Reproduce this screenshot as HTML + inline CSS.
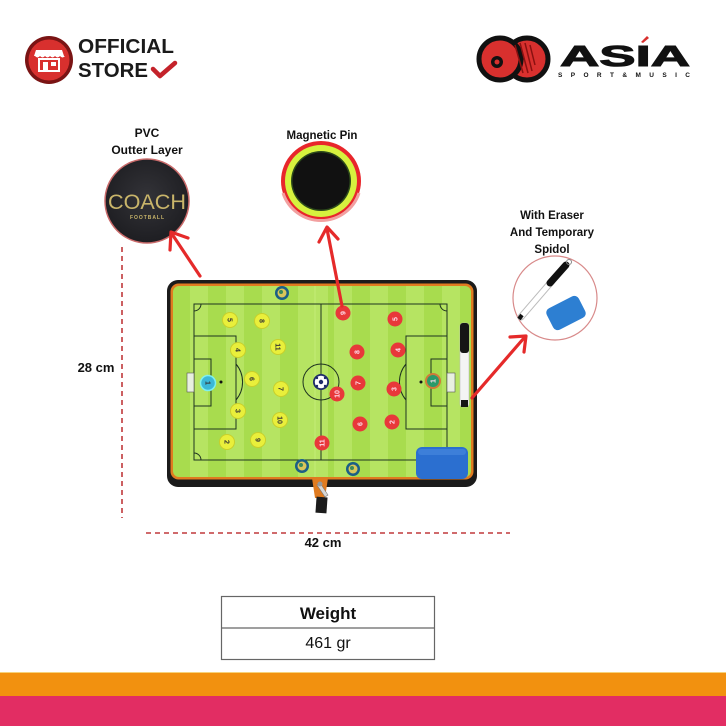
<!DOCTYPE html>
<html><head><meta charset="utf-8"><style>
html,body{margin:0;padding:0;background:#fff;}
svg{display:block;}
text{font-family:"Liberation Sans",sans-serif;}
</style></head><body>
<svg width="726" height="726" viewBox="0 0 726 726" xmlns="http://www.w3.org/2000/svg">
<defs>
<pattern id="stripes" x="172" y="0" width="36" height="10" patternUnits="userSpaceOnUse">
<rect x="0" y="0" width="18" height="10" fill="#a8dc4e"/>
<rect x="18" y="0" width="18" height="10" fill="#b6e462"/>
</pattern>
<radialGradient id="coachg" cx="0.5" cy="0.45" r="0.6">
<stop offset="0" stop-color="#333338"/><stop offset="1" stop-color="#1c1c20"/>
</radialGradient>
</defs>
<rect width="726" height="726" fill="#fff"/>

<!-- Official store logo -->
<circle cx="49" cy="60" r="24" fill="#7a1414"/>
<circle cx="49" cy="60" r="20.5" fill="#d8302e"/>
<path d="M36 50 h26 l2 6 h-30 z" fill="#fff"/>
<path d="M35 56 q2.5 3 5 0 q2.5 3 5 0 q2.5 3 5 0 q2.5 3 5 0 q2.5 3 5 0 q2.5 3 5 0" fill="#fff"/>
<rect x="39" y="59" width="20" height="12" fill="none" stroke="#fff" stroke-width="2"/>
<rect x="43" y="62" width="5" height="9" fill="#fff"/>
<rect x="51" y="62" width="5" height="4" fill="#fff"/>
<text x="78" y="53" font-size="20" font-weight="bold" fill="#1a1a1a" textLength="96" lengthAdjust="spacingAndGlyphs">OFFICIAL</text>
<text x="78" y="77" font-size="20" font-weight="bold" fill="#1a1a1a" textLength="70" lengthAdjust="spacingAndGlyphs">STORE</text>
<polyline points="153,69 160,76 175,63" fill="none" stroke="#c4222a" stroke-width="4.5" stroke-linecap="round" stroke-linejoin="round"/>

<!-- ASIA logo -->
<circle cx="527" cy="59" r="21" fill="#d8302e" stroke="#111" stroke-width="5"/>
<circle cx="500" cy="59" r="21" fill="#d8302e" stroke="#111" stroke-width="5"/>
<path d="M515 45 l8 28 M520 43 l8 30 M525 43 l7 28 M530 45 l5 20" stroke="#8a1010" stroke-width="1.5"/>
<circle cx="497" cy="62" r="6" fill="#111"/>
<circle cx="497" cy="62" r="2.5" fill="#d8302e"/>
<text x="560" y="66" font-size="29" font-weight="bold" fill="#111" stroke="#111" stroke-width="1" textLength="130" lengthAdjust="spacingAndGlyphs">ASIA</text>
<path d="M641 42 l6 -6 l2 2 l-6 5 z" fill="#d8302e"/>
<text x="558" y="77" font-size="6.5" font-weight="bold" fill="#111" textLength="132" lengthAdjust="spacing">SPORT&amp;MUSIC</text>

<!-- labels -->
<text x="147" y="137" font-size="12" font-weight="bold" fill="#111" text-anchor="middle">PVC</text>
<text x="147" y="154" font-size="12" font-weight="bold" fill="#111" text-anchor="middle">Outter Layer</text>
<text x="322" y="139" font-size="11.5" font-weight="bold" fill="#111" text-anchor="middle">Magnetic Pin</text>
<text x="552" y="219" font-size="11.5" font-weight="bold" fill="#111" text-anchor="middle">With Eraser</text>
<text x="552" y="236" font-size="11.5" font-weight="bold" fill="#111" text-anchor="middle">And Temporary</text>
<text x="552" y="253" font-size="11.5" font-weight="bold" fill="#111" text-anchor="middle">Spidol</text>

<!-- COACH circle -->
<circle cx="147" cy="201" r="42" fill="url(#coachg)" stroke="#c96a6a" stroke-width="1.5"/>
<text x="147" y="209" font-size="21" fill="#c9b56a" text-anchor="middle" textLength="78" lengthAdjust="spacingAndGlyphs">COACH</text>
<text x="147" y="219" font-size="5" font-weight="bold" fill="#c9b56a" text-anchor="middle" textLength="34" lengthAdjust="spacing">FOOTBALL</text>

<!-- Magnetic pin circle -->
<circle cx="321" cy="181" r="40" fill="#e8262b"/>
<path d="M283 193 a40 40 0 0 0 76 0" fill="none" stroke="#f2a0a0" stroke-width="3"/>
<circle cx="321" cy="181" r="36" fill="#d6f23e"/>
<circle cx="321" cy="181" r="30" fill="#2c4a1a"/>
<circle cx="321" cy="181" r="28.5" fill="#111"/>

<!-- Eraser circle -->
<circle cx="555" cy="298" r="42" fill="#fff" stroke="#d88a8a" stroke-width="1.2"/>
<line x1="521" y1="317" x2="552" y2="281" stroke="#bbb" stroke-width="7" stroke-linecap="round"/>
<line x1="521" y1="317" x2="552" y2="281" stroke="#fff" stroke-width="5"/>
<line x1="550" y1="283" x2="566" y2="265" stroke="#111" stroke-width="7" stroke-linecap="round"/>
<circle cx="569" cy="262" r="2.5" fill="none" stroke="#888" stroke-width="1"/>
<line x1="519" y1="319" x2="522" y2="315" stroke="#111" stroke-width="4"/>
<rect x="548" y="301" width="36" height="24" rx="5" fill="#2d7fd2" transform="rotate(-27 566 313)"/>

<!-- dimension lines -->
<line x1="122" y1="247" x2="122" y2="518" stroke="#c0393b" stroke-width="1.6" stroke-dasharray="5,4"/>
<line x1="146" y1="533" x2="510" y2="533" stroke="#c0393b" stroke-width="1.6" stroke-dasharray="5,4"/>
<text x="96" y="372" font-size="13" font-weight="bold" fill="#111" text-anchor="middle">28 cm</text>
<text x="323" y="547" font-size="13" font-weight="bold" fill="#111" text-anchor="middle">42 cm</text>

<!-- Board -->
<rect x="167" y="280" width="310" height="207" rx="11" fill="#1b1b1b"/>
<rect x="170.5" y="283.5" width="303" height="196" rx="8" fill="#e07b20"/>
<rect x="173" y="286" width="298" height="191" rx="6" fill="url(#stripes)"/>
<rect x="314" y="286" width="14" height="191" fill="#c3ec78" opacity="0.5"/>
<g fill="none" stroke="#1e3320" stroke-width="1">
<rect x="194" y="304" width="253" height="156"/>
<line x1="321" y1="304" x2="321" y2="460"/>
<circle cx="321" cy="382" r="18"/>
<rect x="194" y="336" width="42" height="93"/>
<rect x="194" y="359" width="17" height="47"/>
<rect x="406" y="336" width="41" height="93"/>
<rect x="431" y="359" width="16" height="47"/>
<path d="M236 364 a28 28 0 0 1 0 36"/>
<path d="M406 364 a28 28 0 0 0 0 36"/>
<path d="M194 311 a7 7 0 0 0 7 -7"/>
<path d="M440 304 a7 7 0 0 0 7 7"/>
<path d="M194 453 a7 7 0 0 1 7 7"/>
<path d="M440 460 a7 7 0 0 1 7 -7"/>
</g>
<rect x="187" y="373" width="7" height="19" fill="#e8f0e0" stroke="#555" stroke-width="0.6"/>
<rect x="447" y="373" width="8" height="19" fill="#e8f0e0" stroke="#555" stroke-width="0.6"/>
<circle cx="221" cy="382" r="1.5" fill="#111"/>
<circle cx="421" cy="382" r="1.5" fill="#111"/>

<!-- yellow discs -->
<g font-size="7" font-weight="bold" fill="#333" text-anchor="middle">
<g><circle cx="230" cy="320" r="7.5" fill="#e9ef3b" stroke="#c9cf2a"/><text x="230" y="322.5" transform="rotate(90 230 320)">5</text></g>
<g><circle cx="262" cy="321" r="7.5" fill="#e9ef3b" stroke="#c9cf2a"/><text x="262" y="323.5" transform="rotate(90 262 321)">8</text></g>
<g><circle cx="238" cy="350" r="7.5" fill="#e9ef3b" stroke="#c9cf2a"/><text x="238" y="352.5" transform="rotate(90 238 350)">4</text></g>
<g><circle cx="278" cy="347" r="7.5" fill="#e9ef3b" stroke="#c9cf2a"/><text x="278" y="349.5" transform="rotate(90 278 347)">11</text></g>
<g><circle cx="252" cy="379" r="7.5" fill="#e9ef3b" stroke="#c9cf2a"/><text x="252" y="381.5" transform="rotate(90 252 379)">6</text></g>
<g><circle cx="281" cy="389" r="7.5" fill="#e9ef3b" stroke="#c9cf2a"/><text x="281" y="391.5" transform="rotate(90 281 389)">7</text></g>
<g><circle cx="238" cy="411" r="7.5" fill="#e9ef3b" stroke="#c9cf2a"/><text x="238" y="413.5" transform="rotate(90 238 411)">3</text></g>
<g><circle cx="280" cy="420" r="7.5" fill="#e9ef3b" stroke="#c9cf2a"/><text x="280" y="422.5" transform="rotate(90 280 420)">10</text></g>
<g><circle cx="227" cy="442" r="7.5" fill="#e9ef3b" stroke="#c9cf2a"/><text x="227" y="444.5" transform="rotate(90 227 442)">2</text></g>
<g><circle cx="258" cy="440" r="7.5" fill="#e9ef3b" stroke="#c9cf2a"/><text x="258" y="442.5" transform="rotate(90 258 440)">9</text></g>
<g><circle cx="208" cy="383" r="7.5" fill="#3bb8d8" stroke="#7ef0f0" stroke-width="1.5"/><text x="208" y="385.5" transform="rotate(90 208 383)">1</text></g>
</g>
<!-- red discs -->
<g font-size="7" font-weight="bold" fill="#fde" text-anchor="middle">
<g><circle cx="343" cy="313" r="7.5" fill="#e8383a"/><text x="343" y="315.5" transform="rotate(-90 343 313)">9</text></g>
<g><circle cx="395" cy="319" r="7.5" fill="#e8383a"/><text x="395" y="321.5" transform="rotate(-90 395 319)">5</text></g>
<g><circle cx="357" cy="352" r="7.5" fill="#e8383a"/><text x="357" y="354.5" transform="rotate(-90 357 352)">8</text></g>
<g><circle cx="398" cy="350" r="7.5" fill="#e8383a"/><text x="398" y="352.5" transform="rotate(-90 398 350)">4</text></g>
<g><circle cx="358" cy="383" r="7.5" fill="#e8383a"/><text x="358" y="385.5" transform="rotate(-90 358 383)">7</text></g>
<g><circle cx="337" cy="394" r="7.5" fill="#e8383a"/><text x="337" y="396.5" transform="rotate(-90 337 394)">10</text></g>
<g><circle cx="394" cy="389" r="7.5" fill="#e8383a"/><text x="394" y="391.5" transform="rotate(-90 394 389)">3</text></g>
<g><circle cx="360" cy="424" r="7.5" fill="#e8383a"/><text x="360" y="426.5" transform="rotate(-90 360 424)">6</text></g>
<g><circle cx="392" cy="422" r="7.5" fill="#e8383a"/><text x="392" y="424.5" transform="rotate(-90 392 422)">2</text></g>
<g><circle cx="322" cy="443" r="7.5" fill="#e8383a"/><text x="322" y="445.5" transform="rotate(-90 322 443)">11</text></g>
<g><circle cx="433" cy="381" r="8" fill="#d07a3a"/><circle cx="433" cy="381" r="6" fill="#2a9a6a"/><text x="433" y="383.5" transform="rotate(-90 433 381)">1</text></g>
</g>
<!-- ball -->
<circle cx="321" cy="382" r="8" fill="#1d2a6a"/>
<circle cx="321" cy="382" r="6.2" fill="#fff"/>
<circle cx="321" cy="382" r="2.2" fill="#1d2a6a"/>
<circle cx="317" cy="378" r="1.2" fill="#1d2a6a"/><circle cx="325" cy="378" r="1.2" fill="#1d2a6a"/>
<circle cx="317" cy="386" r="1.2" fill="#1d2a6a"/><circle cx="325" cy="386" r="1.2" fill="#1d2a6a"/>
<!-- blue magnets -->
<g>
<circle cx="282" cy="293" r="7" fill="#1b5f86"/><circle cx="282" cy="293" r="4.5" fill="#d9c65a"/><circle cx="281" cy="292" r="2" fill="#3a8a5a"/>
<circle cx="302" cy="466" r="7" fill="#1b5f86"/><circle cx="302" cy="466" r="4.5" fill="#d9c65a"/><circle cx="301" cy="465" r="2" fill="#3a8a5a"/>
<circle cx="353" cy="469" r="7" fill="#1b5f86"/><circle cx="353" cy="469" r="4.5" fill="#d9c65a"/><circle cx="352" cy="468" r="2" fill="#3a8a5a"/>
</g>
<!-- pen on board -->
<rect x="460" y="323" width="9" height="84" rx="3" fill="#f4f4f4" stroke="#bbb" stroke-width="0.6"/>
<rect x="460" y="323" width="9" height="30" rx="3" fill="#151515"/>
<rect x="461" y="400" width="7" height="7" fill="#151515"/>
<!-- eraser on board -->
<rect x="416" y="447" width="52" height="32" rx="6" fill="#2b6fd0"/>
<rect x="418" y="449" width="48" height="6" rx="3" fill="#4a8ae0" opacity="0.6"/>
<!-- zipper -->
<path d="M312 478 h16 l-3 20 h-10 z" fill="#e07b20"/>
<rect x="316" y="497" width="11" height="16" fill="#1b1b1b" transform="rotate(4 321 505)"/>
<path d="M320 483 l8 12 l-3 2 l-8 -12 z" fill="#d6d6d6" stroke="#777" stroke-width="0.6"/>
<circle cx="320" cy="484" r="2.5" fill="#999"/>

<!-- arrows -->
<g stroke="#e52a2a" stroke-width="3.2" stroke-linecap="round" fill="none" stroke-linejoin="round">
<line x1="200" y1="276" x2="172" y2="234"/>
<polyline points="170,250 171,232 188,238"/>
<line x1="342" y1="306" x2="327" y2="229"/>
<polyline points="319,242 327,227 338,239"/>
<line x1="472" y1="398" x2="524" y2="338"/>
<polyline points="510,337 526,336 524,352"/>
</g>

<!-- table -->
<rect x="221.5" y="596.5" width="213" height="63" fill="#fff" stroke="#666" stroke-width="1.2"/>
<line x1="221.5" y1="628" x2="434.5" y2="628" stroke="#666" stroke-width="1.2"/>
<text x="328" y="619" font-size="17" font-weight="bold" fill="#111" text-anchor="middle">Weight</text>
<text x="328" y="648" font-size="16" fill="#111" text-anchor="middle">461 gr</text>

<!-- bottom stripes -->
<rect x="0" y="672" width="726" height="1.5" fill="#f7d27a"/>
<rect x="0" y="673" width="726" height="23" fill="#f2910f"/>
<rect x="0" y="696" width="726" height="30" fill="#e22d63"/>
</svg>
</body></html>
